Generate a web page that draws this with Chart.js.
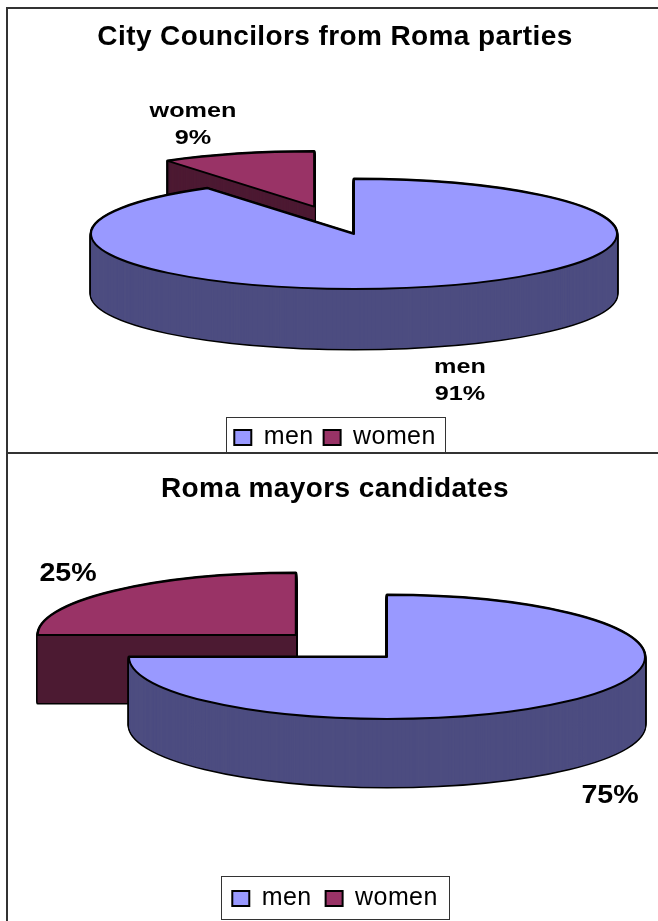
<!DOCTYPE html>
<html>
<head>
<meta charset="utf-8">
<title>Roma candidates</title>
<script src="https://cdn.jsdelivr.net/npm/chart.js@4"></script>
<style>
  html, body { margin: 0; padding: 0; background: #fff; overflow: hidden; }
  body { position: relative; width: 658px; height: 921px; }
  canvas { position: absolute; left: 0; }
  #councilChart { top: 0; }
  #mayorChart { top: 453px; }
  .rule { position: absolute; background: #333; }
</style>
</head>
<body>
<canvas id="councilChart" width="658" height="453"></canvas>
<canvas id="mayorChart" width="658" height="468"></canvas>
<div class="rule" style="left:6px;top:7px;width:2px;height:914px"></div>
<div class="rule" style="left:6px;top:7px;width:652px;height:2px"></div>
<div class="rule" style="left:7px;top:452px;width:651px;height:2px"></div>
<script>
// ===================================
// Data
// ===================================
const categories = ['men', 'women'];
const councilValues = [90.6, 9.4];
const mayorValues = [75, 25];
const councilTitle = 'City Councilors from Roma parties';
const mayorTitle = 'Roma mayors candidates';

const topColors = ['#9999ff', '#993366'];
const wallColors = ['#4d4d80', '#4d1a33'];

// ===================================
// Fake 3D pie: the slice angles come from the pie controller,
// this only tilts them and pulls the side walls down
// ===================================
function slicePath(ctx, pie, arc, drop) {
  const mid = (arc.startAngle + arc.endAngle) / 2;
  const pull = arc.options.offset || 0;
  const cx = pie.cx + Math.cos(mid) * pull;
  const cy = pie.cy + Math.sin(mid) * pull * pie.ry / pie.rx + drop;
  ctx.beginPath();
  ctx.moveTo(cx, cy);
  ctx.ellipse(cx, cy, pie.rx, pie.ry, 0, arc.startAngle, arc.endAngle);
  ctx.closePath();
}

const tiltedPie = {
  id: 'tiltedPie',
  beforeLayout(chart, args, opts) {
    chart.ctx.letterSpacing = opts.spacing;
  },
  afterLayout(chart, args, opts) {
    // nudge the legend row to where the original sits
    chart.legend.top += opts.legendDy;
    chart.legend.bottom += opts.legendDy;
  },
  beforeDraw(chart, args, opts) {
    chart.ctx.letterSpacing = opts.spacing;
  },
  beforeDatasetsDraw(chart, args, opts) {
    const ctx = chart.ctx;
    const arcs = chart.getDatasetMeta(0).data;
    ctx.save();
    ctx.lineJoin = 'round';
    // women sit behind the men slice, so paint them first
    for (let i = arcs.length - 1; i >= 0; i--) {
      const arc = arcs[i];
      ctx.strokeStyle = '#000';
      ctx.lineWidth = 3;
      for (let d = opts.depth; d >= 0; d--) {
        slicePath(ctx, opts, arc, d);
        ctx.stroke();
      }
      ctx.fillStyle = wallColors[i];
      for (let d = opts.depth; d >= 0; d -= 0.5) {
        slicePath(ctx, opts, arc, d);
        ctx.fill();
      }
      slicePath(ctx, opts, arc, 0);
      ctx.fillStyle = topColors[i];
      ctx.fill();
      ctx.lineWidth = 2;
      ctx.stroke();
    }
    ctx.restore();
    return false;
  },
  afterDraw(chart, args, opts) {
    const ctx = chart.ctx;
    const values = chart.data.datasets[0].data;
    const total = values.reduce((a, b) => a + b, 0);
    ctx.save();
    ctx.letterSpacing = '0px';
    ctx.fillStyle = '#000';
    ctx.textAlign = 'center';
    ctx.textBaseline = 'alphabetic';
    opts.labels.forEach((label, i) => {
      const pct = Math.round(values[i] / total * 100) + '%';
      const lines = opts.showNames ? [chart.data.labels[i], pct] : [pct];
      ctx.font = 'bold ' + opts.labelSize + 'px "Liberation Sans"';
      lines.forEach((line, n) => {
        ctx.save();
        ctx.translate(label.x, label.y + n * opts.labelLeading);
        ctx.scale(opts.labelStretch, 1);
        ctx.fillText(line, 0, 0);
        ctx.restore();
      });
    });

    // legend frame
    ctx.strokeStyle = '#333';
    ctx.lineWidth = 1;
    ctx.strokeRect(opts.frame.x + 0.5, opts.frame.y + 0.5, opts.frame.w, opts.frame.h);
    ctx.restore();
  }
};
Chart.register(tiltedPie);

function createPie(canvasId, values, title, pie) {
  return new Chart(document.getElementById(canvasId), {
    type: 'pie',
    data: {
      labels: categories,
      datasets: [{
        data: values,
        backgroundColor: topColors,
        borderColor: '#000',
        borderWidth: 2,
        offset: [0, pie.pull]
      }]
    },
    options: {
      responsive: false,
      animation: false,
      layout: { padding: { left: 12 } },
      plugins: {
        tooltip: { enabled: false },
        title: {
          display: true,
          text: title,
          color: '#000',
          font: { family: '"Liberation Sans"', size: 28, weight: 'bold' },
          padding: pie.titlePadding
        },
        legend: {
          position: 'bottom',
          labels: {
            color: '#000',
            font: { family: '"Liberation Sans"', size: 25, lineHeight: 1.25 },
            boxWidth: 17,
            boxHeight: 15,
            padding: pie.legendPadding
          }
        },
        tiltedPie: pie
      }
    }
  });
}

window.chartCouncil = createPie('councilChart', councilValues, councilTitle, {
  cx: 354, cy: 234, rx: 263, ry: 55, depth: 60, pull: 137,
  spacing: '0.4px',
  titlePadding: { top: 20, bottom: 10 },
  legendPadding: 10, legendDy: 7,
  showNames: true, labelSize: 21, labelStretch: 1.2, labelLeading: 27,
  labels: [{ x: 460, y: 373 }, { x: 193, y: 117 }],
  frame: { x: 226, y: 417, w: 219, h: 35 }
});

window.chartMayor = createPie('mayorChart', mayorValues, mayorTitle, {
  cx: 387, cy: 204, rx: 258, ry: 62, depth: 68, pull: 129,
  spacing: '0.4px',
  titlePadding: { top: 19, bottom: 10 },
  legendPadding: 14, legendDy: 0,
  showNames: false, labelSize: 26, labelStretch: 1.1, labelLeading: 0,
  labels: [{ x: 610, y: 350 }, { x: 68, y: 128 }],
  frame: { x: 221, y: 423, w: 228, h: 43 }
});
</script>
</body>
</html>
